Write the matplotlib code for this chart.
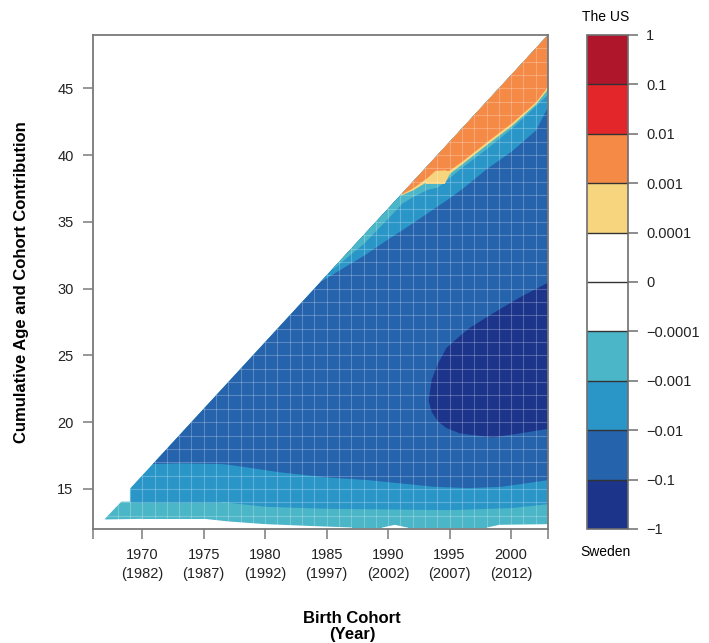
import numpy as np
import matplotlib
matplotlib.use("Agg")
import matplotlib.pyplot as plt
from matplotlib.colors import ListedColormap, BoundaryNorm
from matplotlib.cm import ScalarMappable
from matplotlib.patches import Polygon

plt.rcParams['font.family'] = ['Liberation Sans', 'DejaVu Sans']

# key levels (bottom to top) and band colours
levels = [-1, -0.1, -0.01, -0.001, -0.0001, 0, 0.0001, 0.001, 0.01, 0.1, 1]
level_labels = ["\u22121", "\u22120.1", "\u22120.01", "\u22120.001", "\u22120.0001",
                "0", "0.0001", "0.001", "0.01", "0.1", "1"]
band_colors = ["#1c348a", "#2563ad", "#2a96c8", "#4bb6c7", "#ffffff",
               "#ffffff", "#f7d57f", "#f58a47", "#e3262a", "#b0162b"]
c_dark, c_blue, c_mid, c_teal, _, _, c_yel, c_orange, _, _ = band_colors

# birth cohort ticks and the matching calendar year
cohort_ticks = [1970, 1975, 1980, 1985, 1990, 1995, 2000]
calendar_year = [1982, 1987, 1992, 1997, 2002, 2007, 2012]

# observed domain: highest cumulative age per cohort
dom_x = [1966.9, 1968.3, 1969.0, 1969.0, 1975, 1980, 1985, 1990, 1995, 2000, 2003]
dom_top = [12.7, 14.05, 14.05, 15.0, 21, 26, 31, 36, 41, 46, 49]

# -0.0001 crossing (white -> teal), bottom
bot_x = [1966.9, 1970, 1975, 1977, 1980, 1984, 1987, 1989.5, 1990.5, 1991.5, 1995, 1998, 1999, 2003]
bot_lo = [12.75, 12.8, 12.8, 12.6, 12.4, 12.25, 12.15, 12.15, 12.35, 12.15, 12.15, 12.15, 12.35, 12.4]

# -0.001 crossing (teal -> mid blue), bottom
mid_x = [1969.0, 1972, 1976.5, 1980, 1985, 1990, 1995, 2000, 2003]
mid_lo = [14.05, 14.05, 14.05, 13.7, 13.55, 13.5, 13.45, 13.6, 13.9]

# -0.01 crossing (mid blue -> blue), bottom
blue_x = [1970.8, 1973, 1976.5, 1978.5, 1981, 1984, 1985, 1988.3, 1993.7, 1996.5, 1999.2, 2003]
blue_lo = [16.9, 16.95, 16.9, 16.65, 16.3, 16.0, 15.9, 15.7, 15.2, 15.1, 15.2, 15.7]

# -0.1 region (dark blue core)
core_x = [1993.25, 1993.5, 1994.0, 1994.7, 1995.8, 1996.6, 1998.5, 2000.7, 2003]
core_lo = [21.65, 20.8, 20.1, 19.6, 19.2, 19.1, 18.9, 19.2, 19.55]
core_hi = [21.65, 23.2, 24.4, 25.6, 26.5, 27.1, 28.2, 29.4, 30.5]

# upper edge crossings
up_x = [1984.6, 1986, 1988, 1990, 1991.1, 1992, 1993.2, 1994, 1994.8, 1996, 1998, 2000, 2002, 2003]
up_mid_lo = [30.6, 31.4, 32.5, 33.75, 34.4, 34.95, 35.7, 36.2, 36.7, 37.5, 39.0, 40.3, 41.9, 43.7]
teal_x = [1985.5, 1988, 1990, 1991.1, 1992, 1993.2, 1994, 1994.8, 1996, 1998, 2000, 2002, 2003]
teal_lo = [31.5, 33.4, 35.3, 36.4, 36.9, 37.45, 37.6, 38.2, 39.1, 40.5, 42.0, 43.7, 44.6]
yel_x = [1991.0, 1992, 1993.0, 1993.3, 1994.6, 1995.0, 1996, 1998, 2000, 2002, 2003]
yel_lo = [37.0, 37.4, 37.95, 37.95, 37.95, 38.65, 39.35, 40.8, 42.2, 43.85, 45.0]
or_x = [1991.1, 1992, 1993.2, 1993.8, 1994.6, 1995.0, 1996, 1998, 2000, 2002, 2003]
or_lo = [37.1, 37.55, 38.35, 38.85, 38.9, 38.9, 39.55, 41.0, 42.4, 44.0, 45.2]

x0, x1, y0, y1 = 1966, 2003, 12, 49

fig = plt.figure(figsize=(7.09, 6.43), dpi=100)
ax = fig.add_axes([0.1312, 0.1773, 0.6417, 0.7683])
ax.set_xlim(x0, x1)
ax.set_ylim(y0, y1)

verts = list(zip(dom_x, dom_top)) + [(dom_x[-1], y0), (dom_x[0], y0)]
clip = Polygon(verts, closed=True, transform=ax.transData, fc="none", ec="none")
ax.add_patch(clip)

layers = [
    (bot_x, bot_lo, y1, c_teal),
    (mid_x, mid_lo, y1, c_mid),
    (blue_x, blue_lo, y1, c_blue),
    (core_x, core_lo, core_hi, c_dark),
    (up_x, up_mid_lo, y1, c_mid),
    (teal_x, teal_lo, y1, c_teal),
    (yel_x, yel_lo, y1, c_yel),
    (or_x, or_lo, y1, c_orange),
]
for xs, lo, hi, col in layers:
    pc = ax.fill_between(xs, lo, hi, color=col, lw=0)
    pc.set_clip_path(clip)

# faint cell seams
vl = ax.vlines(np.arange(x0 + 1, x1), y0, y1, colors="white", lw=0.8, alpha=0.24)
hl = ax.hlines(np.arange(y0 + 1, y1), x0, x1, colors="white", lw=0.8, alpha=0.24)
vl.set_clip_path(clip)
hl.set_clip_path(clip)

for s in ax.spines.values():
    s.set_color("#7a7a7a")
    s.set_linewidth(1.3)

ax.set_xticks(cohort_ticks)
ax.set_xticklabels([f"{c}\n({y})" for c, y in zip(cohort_ticks, calendar_year)],
                   linespacing=1.45)
ax.set_xticks([x0, x1], minor=True)
ax.set_yticks([15, 20, 25, 30, 35, 40, 45])
ax.tick_params(which="both", length=7, width=1.1, color="#7a7a7a",
               labelsize=10.5, labelcolor="#222222", pad=7)

ax.set_xlabel("Birth Cohort\n(Year)", fontsize=12, fontweight="bold", linespacing=1.1)
ax.xaxis.set_label_coords(0.569, -0.165)
ax.set_ylabel("Cumulative Age and Cohort Contribution", fontsize=12, fontweight="bold")
ax.yaxis.set_label_coords(-0.14, 0.5)

# key
cax = fig.add_axes([0.8279, 0.1773, 0.0578, 0.7683])
sm = ScalarMappable(norm=BoundaryNorm(np.arange(len(levels)), len(band_colors)),
                    cmap=ListedColormap(band_colors))
cb = fig.colorbar(sm, cax=cax, ticks=np.arange(len(levels)), drawedges=True)
cb.set_ticklabels(level_labels)
cb.outline.set_edgecolor("#6e6e6e")
cb.outline.set_linewidth(1.2)
cb.dividers.set_color("#333333")
cb.dividers.set_linewidth(1.0)
cax.tick_params(length=7, width=1.1, color="#6e6e6e", labelsize=10.5,
                labelcolor="#222222", pad=6)

fig.text(606 / 709, 1 - 16.7 / 643, "The US", ha="center", va="center", fontsize=10)
fig.text(605 / 709, 1 - 552 / 643, "Sweden", ha="center", va="center", fontsize=10)

fig.savefig("out.png", dpi=100)
